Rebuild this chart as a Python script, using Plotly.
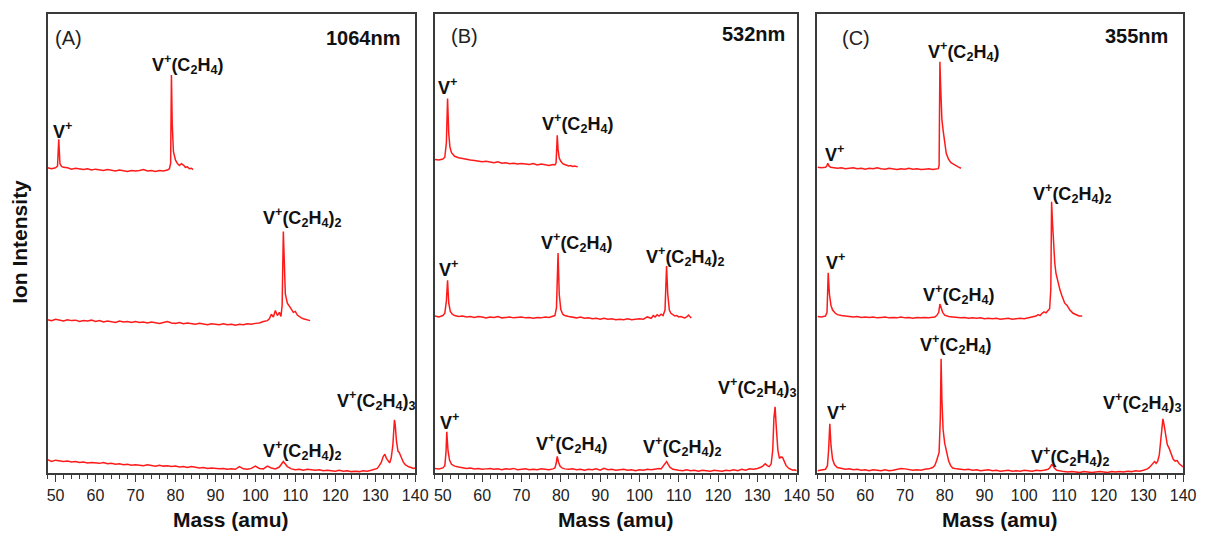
import plotly.graph_objects as go

# ---------------- data ----------------
# y values are in arbitrary stacked-intensity units (0..100 per panel)
panel_names = ["(A)", "(B)", "(C)"]
wavelengths = ["1064nm", "532nm", "355nm"]
mass_ticks = [50, 60, 70, 80, 90, 100, 110, 120, 130, 140]

# Panel A (1064 nm)
xA1 = [48, 49, 50, 50.5, 50.8, 51.1, 51.5, 52,
       53, 54, 55, 56, 57, 58, 59, 60, 61, 62, 63, 64, 65, 66, 67, 68, 69, 70,
       71, 72, 73, 74, 75, 76, 77, 78,
       78.5, 78.8, 79.0, 79.2, 79.5, 80, 80.5, 81, 81.5, 82, 82.5, 83, 83.5, 84, 84.4]
yA1 = [66.5, 66.3, 66.5, 66.9, 72.7, 67.4, 66.8, 66.6,
       66.5, 66.2, 66.4, 66.3, 66.1, 66.3, 66.0, 66.2, 66.1, 65.9, 66.1, 66.0, 65.8, 66.0, 65.9, 65.7, 65.9, 65.8,
       65.9, 66.1, 65.8, 65.9, 65.7, 65.9, 65.8, 66.0,
       66.3, 67.5, 86.7, 76.0, 70.0, 68.2, 67.4, 67.0, 67.4, 67.1, 66.6, 66.7, 66.3, 66.4, 66.1]

xA2 = [48, 49, 50, 51, 52, 53, 54, 55, 56, 57, 58, 59, 60, 61, 62, 63, 64, 65, 66, 67, 68, 69, 70,
       71, 72, 73, 74, 75, 76, 77, 78, 79, 80, 81, 82, 83, 84, 85, 86, 87, 88, 89, 90,
       91, 92, 93, 94, 95, 96, 97, 98, 99, 100, 101, 102, 103,
       103.5, 104, 104.5, 105, 105.5, 106, 106.4, 106.7, 107.0, 107.2, 107.5, 108, 108.5, 109,
       109.5, 110, 110.5, 111, 111.5, 112, 112.5, 113, 113.7]
yA2 = [33.4, 33.2, 33.5, 33.3, 33.1, 33.4, 33.2, 33.3, 33.0, 33.2, 33.1, 33.3, 33.0, 33.2, 32.9, 33.1, 33.0, 32.8, 33.1, 32.9, 33.0, 32.8, 33.0,
       32.8, 32.9, 32.7, 32.9, 32.8, 32.6, 32.8, 33.0, 32.7, 32.6, 32.8, 32.5, 32.7, 32.6, 32.4, 32.6, 32.5, 32.3, 32.5, 32.4,
       32.3, 32.5, 32.3, 32.4, 32.2, 32.4, 32.3, 32.5, 32.4, 32.6, 32.7, 33.0, 33.2,
       33.6, 34.6, 34.0, 35.4, 34.3, 35.0, 34.1, 36.5, 52.6, 44.0, 39.0, 37.0, 36.2, 35.7,
       35.0, 35.2, 34.4, 34.0, 33.8, 33.6, 33.5, 33.4, 33.2]

xA3 = [48, 49, 50, 51, 52, 53, 54, 55, 56, 57, 58, 59, 60, 61, 62, 63, 64, 65, 66, 67, 68, 69, 70,
       71, 72, 73, 74, 75, 76, 77, 78, 79, 80, 81, 82, 83, 84, 85, 86, 87, 88, 89, 90,
       91, 92, 93, 94, 95, 96, 97, 98, 99, 100, 101, 102, 103, 104, 105, 106, 107, 108, 109, 110,
       111, 112, 113, 114, 115, 116, 117, 118, 119, 120, 121, 122, 123, 124, 125, 126, 127, 128, 129, 130,
       130.5, 131, 131.5, 132, 132.4, 132.8, 133.2, 133.6, 134, 134.4, 134.8, 135.0, 135.3, 135.7,
       136, 136.5, 137, 137.5, 138, 138.5, 139, 139.5, 140]
yA3 = [2.9, 2.5, 2.8, 2.7, 2.5, 2.6, 2.4, 2.5, 2.3, 2.4, 2.2, 2.3, 2.2, 2.1, 2.3, 2.0, 2.1, 1.9, 2.0, 1.8, 1.9, 1.7, 1.8,
       1.7, 1.6, 1.8, 1.6, 1.5, 1.7, 1.5, 1.6, 1.4, 1.5, 1.3, 1.4, 1.2, 1.4, 1.3, 1.1, 1.2, 1.0, 1.1, 1.0,
       0.9, 1.0, 0.8, 0.9, 0.8, 1.4, 0.9, 0.8, 1.0, 1.5, 1.0, 0.9, 1.5, 1.1, 0.9, 1.3, 2.5, 1.4, 0.9, 0.7,
       0.8, 0.6, 0.8, 0.7, 0.6, 0.7, 0.5, 0.6, 0.5, 0.4, 0.6, 0.4, 0.5, 0.3, 0.4, 0.3, 0.5, 0.4, 0.6, 0.8,
       1.0, 1.6, 2.3, 3.6, 4.1, 3.2, 2.8, 2.2, 3.3, 6.0, 11.6, 10.5, 7.0, 4.7,
       4.5, 3.3, 2.4, 1.8, 1.5, 1.3, 1.2, 1.0, 1.1]

# Panel B (532 nm)
xB1 = [48, 49, 50, 50.5, 50.9, 51.2, 51.5, 51.8, 52.2, 52.6,
       53, 54, 55, 56, 57, 58, 59, 60, 61, 62, 63, 64, 65, 66, 67, 68, 69, 70,
       71, 72, 73, 74, 75, 76, 77, 78,
       78.5, 78.8, 79.1, 79.3, 79.6, 80, 80.5, 81, 81.5, 82, 82.5, 83, 83.5, 84, 84.3]
yB1 = [68.3, 68.2, 68.4, 68.8, 72.0, 81.6, 74.0, 71.0, 69.8, 69.3,
       69.0, 68.7, 68.5, 68.4, 68.2, 68.1, 67.9, 67.8, 67.9, 67.7, 67.6, 67.8, 67.5, 67.6, 67.4, 67.5, 67.3, 67.4,
       67.3, 67.2, 67.4, 67.1, 67.3, 67.2, 67.0, 67.2,
       67.1, 67.6, 73.6, 70.5, 68.6, 67.9, 67.4, 67.2, 67.0, 66.9, 67.0, 66.8, 66.9, 66.7, 66.7]

xB2 = [48, 49, 50, 50.5, 50.9, 51.2, 51.5, 51.9, 52.4,
       53, 54, 55, 56, 57, 58, 59, 60, 61, 62, 63, 64, 65, 66, 67, 68, 69, 70,
       71, 72, 73, 74, 75, 76, 77, 78,
       78.5, 78.9, 79.3, 79.6, 80, 80.5, 81,
       82, 83, 84, 85, 86, 87, 88, 89, 90, 91, 92, 93, 94, 95, 96, 97, 98, 99, 100, 101, 102, 103,
       103.5, 104, 104.5, 105, 105.5, 106, 106.5, 106.9, 107.2, 107.6, 108, 108.5, 109, 109.5,
       110, 110.5, 111, 111.5, 112, 112.5, 113, 113.2]
yB2 = [34.2, 34.0, 34.3, 34.8, 37.5, 42.0, 37.0, 35.2, 34.6,
       34.3, 34.1, 34.2, 34.0, 34.1, 33.9, 34.1, 34.0, 33.8, 34.0, 33.9, 34.1, 33.8, 33.9, 34.0, 33.8, 33.9, 34.0,
       33.8, 33.9, 33.7, 33.9, 33.8, 34.0, 33.9, 34.1,
       34.3, 36.0, 47.9, 39.0, 35.6, 34.6, 34.3,
       34.1, 33.9, 33.8, 34.0, 33.7, 33.8, 33.6, 33.7, 33.5, 33.7, 33.5, 33.6, 33.4, 33.5, 33.4, 33.6, 33.4, 33.5, 33.6, 33.5, 34.0, 33.7,
       34.3, 34.0, 34.5, 34.2, 34.6, 34.3, 35.5, 45.1, 39.0, 35.5, 34.8, 34.5, 34.2, 34.3,
       34.0, 34.1, 33.9, 33.8, 34.0, 34.4, 33.9, 33.8]

xB3 = [48, 49, 50, 50.5, 50.8, 51.0, 51.3, 51.7, 52.2, 53,
       54, 55, 56, 57, 58, 59, 60, 61, 62, 63, 64, 65, 66, 67, 68, 69, 70,
       71, 72, 73, 74, 75, 76, 77, 78,
       78.5, 78.8, 79.1, 79.4, 79.8, 80.3, 81,
       82, 83, 84, 85, 86, 87, 88, 89, 90, 91, 92, 93, 94, 95, 96, 97, 98, 99, 100, 101, 102, 103, 104, 105,
       105.5, 106, 106.5, 106.9, 107.3, 107.8, 108.5, 109,
       110, 111, 112, 113, 114, 115, 116, 117, 118, 119, 120, 121, 122, 123, 124, 125, 126, 127, 128, 129, 130,
       130.5, 131, 131.5, 132, 132.5, 133, 133.5, 133.9, 134.2, 134.5, 134.8, 135.2, 135.6,
       136, 136.4, 136.8, 137.3, 138, 138.5, 139, 139.5, 140]
yB3 = [1.0, 0.9, 1.1, 1.6, 4.5, 9.0, 5.0, 2.8, 1.9, 1.5,
       1.3, 1.2, 1.0, 1.1, 0.9, 1.0, 0.8, 0.9, 1.0, 0.8, 0.9, 0.7, 0.9, 0.8, 1.0, 0.7, 0.8,
       0.9, 0.7, 0.8, 0.7, 0.9, 0.8, 0.7, 0.9,
       1.1, 2.0, 3.6, 2.4, 1.5, 1.1, 0.9,
       0.8, 0.9, 0.7, 0.8, 0.6, 0.8, 0.7, 0.9, 0.6, 1.0, 0.7, 0.8, 0.6, 0.7, 0.8, 0.6, 0.7, 0.5, 0.7, 0.6, 0.8, 0.7, 0.9, 1.0,
       0.9, 1.4, 2.0, 2.5, 1.9, 1.2, 0.8, 0.7,
       0.6, 0.5, 0.7, 0.5, 0.6, 0.4, 0.6, 0.5, 0.4, 0.6, 0.5, 0.4, 0.6, 0.5, 0.7, 0.5, 0.8, 0.6, 0.9, 0.8, 1.0,
       1.1, 1.3, 1.6, 2.0, 1.6, 1.4, 2.0, 5.0, 12.0, 14.4, 10.0, 5.0, 3.2,
       3.5, 3.4, 2.4, 1.6, 1.0, 0.8, 0.6, 0.7, 0.5]

# Panel C (355 nm)
xC1 = [48, 49, 50, 50.3, 50.6, 50.9, 51.3, 52,
       53, 54, 55, 56, 57, 58, 59, 60, 61, 62, 63, 64, 65, 66, 67, 68, 69, 70,
       71, 72, 73, 74, 75, 76, 77, 78,
       78.4, 78.6, 78.8, 79.0, 79.3, 79.6, 80.0, 80.4, 81.0, 81.6, 82.2, 82.8, 83.4, 84.1]
yC1 = [66.6, 66.5, 66.6, 66.8, 67.5, 66.9, 66.6, 66.5,
       66.4, 66.5, 66.3, 66.4, 66.5, 66.3, 66.4, 66.2, 66.4, 66.3, 66.5, 66.3, 66.2, 66.4, 66.3, 66.1, 66.3, 66.2,
       66.4, 66.2, 66.3, 66.1, 66.2, 66.3, 66.1, 66.2,
       66.3, 67.0, 89.6, 84.0, 77.0, 74.7, 71.5, 69.6, 68.3, 67.6, 67.3, 66.9, 66.7, 66.4]

xC2 = [48, 49, 50, 50.4, 50.7, 51.0, 51.4, 51.8, 52.5, 53,
       54, 55, 56, 57, 58, 59, 60, 61, 62, 63, 64, 65, 66, 67, 68, 69, 70,
       71, 72, 73, 74, 75, 76, 77,
       77.5, 78, 78.5, 78.8, 79.1, 79.5, 80, 81,
       82, 83, 84, 85, 86, 87, 88, 89, 90, 91, 92, 93, 94, 95, 96, 97, 98, 99, 100, 101, 102, 103,
       103.5, 104, 104.5, 105, 105.5, 106, 106.4, 106.7, 106.9, 107.1, 107.4, 107.7, 108, 108.5,
       109, 109.5, 110.2, 110.8, 111.5, 112.3, 113, 113.8, 114.6]
yC2 = [34.1, 34.0, 34.2, 35.0, 43.6, 39.0, 36.5, 35.5, 34.8, 34.5,
       34.3, 34.2, 34.1, 34.0, 34.1, 33.9, 34.0, 33.9, 34.0, 33.8, 33.9, 34.0, 33.8, 33.9, 33.8, 34.0, 33.8,
       33.9, 33.7, 33.9, 33.8, 33.9, 33.8, 34.0,
       34.0, 34.3, 35.0, 36.8, 36.0, 35.0, 34.4, 34.1,
       34.0, 33.9, 33.8, 33.9, 33.7, 33.8, 33.7, 33.8, 33.6, 33.7, 33.6, 33.7, 33.5, 33.6, 33.7, 33.5, 33.6, 33.7, 33.6, 33.8, 33.9, 34.2,
       34.5, 34.3, 34.8, 35.1, 34.9, 35.3, 35.8, 40.0, 59.1, 55.0, 49.0, 45.7, 43.5, 41.5,
       39.9, 38.6, 37.0, 36.5, 35.5, 34.8, 34.5, 34.2, 34.2]

xC3 = [48, 49, 50, 50.5, 50.8, 51.1, 51.4, 51.8, 52.3, 53,
       54, 55, 56, 57, 58, 59, 60, 61, 62, 63, 64, 65, 66, 67, 68, 69, 70,
       71, 72, 73, 74, 75, 76, 77,
       77.5, 78, 78.3, 78.6, 78.9, 79.1, 79.3, 79.6, 80, 80.5, 81, 81.5, 82,
       83, 84, 85, 86, 87, 88, 89, 90, 91, 92, 93, 94, 95, 96, 97, 98, 99, 100, 101, 102, 103, 104, 105, 106,
       106.5, 106.9, 107.2, 107.6, 108.2, 109,
       110, 111, 112, 113, 114, 115, 116, 117, 118, 119, 120, 121, 122, 123, 124, 125, 126, 127, 128, 129, 130,
       130.5, 131, 131.5, 132, 132.5, 132.8, 133.2, 133.6, 134, 134.4, 134.7, 134.9, 135.2, 135.6,
       136, 136.5, 137, 137.5, 138, 138.5, 139, 139.5, 140]
yC3 = [0.5, 0.6, 0.8, 1.6, 5.0, 10.7, 6.0, 3.0, 1.8, 1.2,
       1.0, 0.8, 0.9, 0.7, 0.8, 0.6, 0.7, 0.5, 0.7, 0.6, 0.5, 0.7, 0.5, 0.6, 0.8, 1.0, 0.9,
       0.7, 0.6, 0.7, 0.6, 0.8, 0.9, 1.2,
       1.6, 2.8, 3.5, 4.5, 12.0, 24.9, 16.0, 9.5, 6.5, 4.2, 2.6, 1.6, 1.1,
       0.9, 0.8, 0.7, 0.8, 0.6, 0.7, 0.5, 0.6, 0.7, 0.5, 0.6, 0.4, 0.5, 0.6, 0.4, 0.5, 0.4, 0.6, 0.5, 0.4, 0.6, 0.5, 0.6, 0.8,
       1.2, 1.8, 1.7, 1.1, 0.6, 0.4,
       0.3, 0.2, 0.3, 0.2, 0.1, 0.3, 0.2, 0.1, 0.2, 0.3, 0.2, 0.1, 0.3, 0.2, 0.3, 0.2, 0.4, 0.3, 0.5, 0.4, 0.6,
       0.7, 0.9, 1.2, 1.8, 2.4, 2.5, 2.1, 2.6, 4.0, 7.5, 11.0, 11.8, 10.5, 8.0,
       6.2, 5.3, 4.0, 3.0, 2.6, 2.7, 2.0, 1.6, 1.3]

spectra = [
    [(xA1, yA1), (xA2, yA2), (xA3, yA3)],
    [(xB1, yB1), (xB2, yB2), (xB3, yB3)],
    [(xC1, yC1), (xC2, yC2), (xC3, yC3)],
]

# peak labels: (text, mass position, intensity position) per panel
V = "V<sup>+</sup>"
V1 = "V<sup>+</sup>(C<sub>2</sub>H<sub>4</sub>)"
V2 = "V<sup>+</sup>(C<sub>2</sub>H<sub>4</sub>)<sub>2</sub>"
V3 = "V<sup>+</sup>(C<sub>2</sub>H<sub>4</sub>)<sub>3</sub>"
peak_labels = [
    [(V, 51.7, 74.7), (V1, 82.9, 88.9), (V2, 111.6, 55.6), (V2, 111.6, 5.0), (V3, 130.3, 15.7)],
    [(V, 51.2, 84.2), (V1, 84.3, 76.2), (V, 51.4, 44.6), (V1, 83.9, 50.2), (V2, 111.7, 47.1),
     (V, 51.6, 11.2), (V1, 82.7, 6.4), (V2, 110.7, 5.7), (V3, 130.0, 18.6)],
    [(V, 52.2, 69.6), (V1, 84.7, 91.8), (V, 52.6, 46.0), (V1, 83.5, 38.8), (V2, 112.1, 60.9),
     (V, 52.7, 13.5), (V1, 82.6, 27.9), (V2, 111.5, 3.5), (V3, 129.7, 15.3)],
]
name_pos = [(53.2, 94.8), (55.4, 95.3), (57.6, 94.7)]
wl_pos = [(137.0, 94.8), (137.5, 95.6), (136.8, 95.1)]

# ---------------- figure ----------------
# The page body has an 8 px default margin, so the figure is drawn 8 px
# right and down; positions below are given in window pixels and shifted.
OFF = 8
W, H = 1211 - OFF, 534 - OFF
FONT = "Liberation Sans, Arial, Helvetica, sans-serif"


def fx(px):
    return (px - OFF) / W


def fy(py):
    return 1 - (py - OFF) / H


x_domains = [(fx(47), fx(419)), (fx(439), fx(805)), (fx(826), fx(1196))]
y_domain = (fy(473), fy(14))
RED = "#ff1a1a"
AXC = "#3a3a3a"

fig = go.Figure()
annotations = []
for i in range(3):
    sfx = "" if i == 0 else str(i + 1)
    for xs, ys in spectra[i]:
        fig.add_trace(go.Scatter(x=xs, y=ys, mode="lines",
                                 line=dict(color=RED, width=1.5),
                                 xaxis="x" + sfx, yaxis="y" + sfx,
                                 showlegend=False, hoverinfo="skip"))
    xa = dict(domain=list(x_domains[i]), range=[48, 140], anchor="y" + sfx,
              tickmode="array", tickvals=mass_ticks, ticktext=[str(t) for t in mass_ticks],
              ticks="outside", ticklen=7, tickwidth=1.3, tickcolor=AXC,
              minor=dict(tickmode="linear", tick0=48, dtick=2, ticks="outside",
                         ticklen=4, tickwidth=1.1, tickcolor=AXC, showgrid=False),
              showline=True, linecolor=AXC, linewidth=1.5, mirror=True,
              showgrid=False, zeroline=False,
              tickfont=dict(family=FONT, size=16, color="#222"))
    ya = dict(domain=list(y_domain), range=[0, 100], anchor="x" + sfx,
              showticklabels=False, ticks="", showline=True, linecolor=AXC,
              linewidth=1.5, mirror=True, showgrid=False, zeroline=False)
    fig.update_layout(**{"xaxis" + sfx: xa, "yaxis" + sfx: ya})

    for txt, mx, my in peak_labels[i]:
        annotations.append(dict(text="<b>" + txt + "</b>", x=mx, y=my,
                                xref="x" + sfx, yref="y" + sfx,
                                xanchor="center", yanchor="middle", showarrow=False,
                                font=dict(family=FONT, size=18, color="#111")))
    annotations.append(dict(text=panel_names[i], x=name_pos[i][0], y=name_pos[i][1],
                            xref="x" + sfx, yref="y" + sfx, xanchor="center", yanchor="middle",
                            showarrow=False, font=dict(family=FONT, size=20, color="#222")))
    annotations.append(dict(text="<b>" + wavelengths[i] + "</b>", x=wl_pos[i][0], y=wl_pos[i][1],
                            xref="x" + sfx, yref="y" + sfx, xanchor="right", yanchor="middle",
                            showarrow=False, font=dict(family=FONT, size=20, color="#111")))
    annotations.append(dict(text="<b>Mass (amu)</b>", x=sum(x_domains[i]) / 2, y=fy(519),
                            xref="paper", yref="paper", xanchor="center", yanchor="middle",
                            showarrow=False, font=dict(family=FONT, size=21, color="#111")))

annotations.append(dict(text="<b>Ion Intensity</b>", x=fx(19), y=fy(242),
                        xref="paper", yref="paper", xanchor="center", yanchor="middle",
                        textangle=-90, showarrow=False,
                        font=dict(family=FONT, size=21, color="#111")))

fig.update_layout(width=W, height=H, margin=dict(l=0, r=0, t=0, b=0, pad=0),
                  paper_bgcolor="white", plot_bgcolor="white",
                  annotations=annotations, showlegend=False)

fig.write_html("out.html")
